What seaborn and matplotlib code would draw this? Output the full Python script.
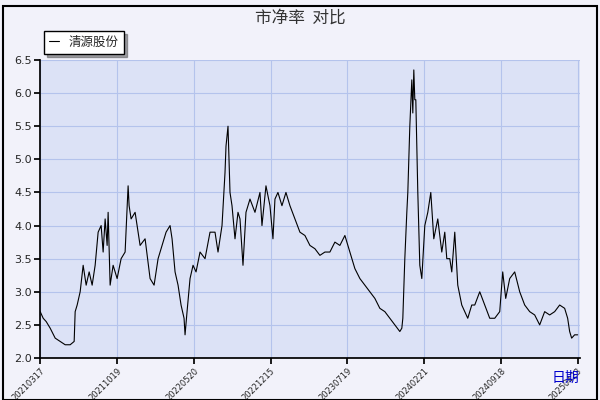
import matplotlib
matplotlib.use("Agg")
import matplotlib.pyplot as plt
import seaborn as sns
import pandas as pd
from matplotlib.patches import Rectangle

sns.set_theme(style="white")
plt.rcParams['font.family'] = ['Noto Sans CJK SC', 'DejaVu Sans']

tick_labels = ["20210317", "20211019", "20220520", "20221215", "20230719", "20240221", "20240918", "20250423"]
# pixel-read positions (converted to trading-day index below) and P/B values
pos = [40,43,46,50,55,60,65,70,74,75,77,80,83,86,89,92,95,98,101,103,105,107,108,110,113,117,121,125,128,129,131,135,140,145,150,154,158,162,166,170,172,175,178,181,184,185,187,190,193,196,200,205,210,215,218,222,225,226,228,230,232,235,238,240,243,246,250,255,260,262,266,270,273,275,278,282,286,290,295,300,305,310,315,320,325,330,335,340,345,350,355,360,365,370,375,380,385,390,395,400,402,403,405,407,408,410,412,413,414,415,416,418,420,422,425,428,431,434,438,442,445,447,450,452,455,458,462,465,468,472,475,480,485,490,495,500,503,506,510,515,520,525,530,535,540,545,550,555,560,565,568,570,572,575,578]
pb = [2.7,2.6,2.55,2.45,2.3,2.25,2.2,2.2,2.25,2.7,2.8,3.0,3.4,3.1,3.3,3.1,3.4,3.9,4.0,3.6,4.1,3.7,4.2,3.1,3.4,3.2,3.5,3.6,4.6,4.3,4.1,4.2,3.7,3.8,3.2,3.1,3.5,3.7,3.9,4.0,3.8,3.3,3.1,2.8,2.6,2.35,2.7,3.2,3.4,3.3,3.6,3.5,3.9,3.9,3.6,4.0,4.8,5.2,5.5,4.5,4.3,3.8,4.2,4.1,3.4,4.2,4.4,4.2,4.5,4.0,4.6,4.3,3.8,4.4,4.5,4.3,4.5,4.3,4.1,3.9,3.85,3.7,3.65,3.55,3.6,3.6,3.75,3.7,3.85,3.6,3.35,3.2,3.1,3.0,2.9,2.75,2.7,2.6,2.5,2.4,2.45,2.6,3.5,4.2,4.5,5.5,6.2,5.7,6.35,5.9,5.9,4.5,3.4,3.2,4.0,4.2,4.5,3.8,4.1,3.6,3.9,3.5,3.5,3.3,3.9,3.1,2.8,2.7,2.6,2.8,2.8,3.0,2.8,2.6,2.6,2.7,3.3,2.9,3.2,3.3,3.0,2.8,2.7,2.65,2.5,2.7,2.65,2.7,2.8,2.75,2.6,2.4,2.3,2.35,2.35]
days = [(p - 40) * 1050 / 538 for p in pos]
df = pd.DataFrame({"day": days, "pb": pb})

fig = plt.figure(figsize=(6, 4), dpi=100, facecolor="#F2F2FA")
fig.patches.append(Rectangle((0.005, 0.0), 0.99, 0.985, transform=fig.transFigure,
                             fill=False, edgecolor="black", lw=1.5))
ax = fig.add_axes([0.067, 0.105, 0.9, 0.745])
ax.set_facecolor("#DCE2F6")
sns.lineplot(data=df, x="day", y="pb", ax=ax, color="black", lw=0.8, label="清源股份")
ax.set_xlim(0, 1055)
ax.set_ylim(2.0, 6.5)
ax.set_yticks([2.0, 2.5, 3.0, 3.5, 4.0, 4.5, 5.0, 5.5, 6.0, 6.5])
ax.set_yticklabels([f"{v:.1f}" for v in ax.get_yticks()], fontsize=8, family="DejaVu Sans")
ax.set_xticks([i * 150 for i in range(8)])
ax.set_xticklabels(tick_labels, rotation=45, fontsize=6, ha="right", rotation_mode="anchor",
                   family="DejaVu Sans")
ax.grid(True, color="#B4C3EC", lw=0.8)
for s in ["top", "right"]:
    ax.spines[s].set_visible(False)
ax.spines["left"].set_color("black")
ax.spines["bottom"].set_color("black")
ax.tick_params(axis="both", length=4, color="black", direction="out", left=True, bottom=True, pad=2)
ax.set_xlabel("")
ax.set_ylabel("")
leg = ax.legend(loc="lower left", bbox_to_anchor=(-0.005, 1.0), fontsize=9, frameon=True,
                fancybox=False, edgecolor="black", shadow=True, handlelength=0.8,
                borderpad=0.4)
leg.get_frame().set_facecolor("white")
fig.text(0.5, 0.955, "市净率  对比", ha="center", va="center", fontsize=12, color="#333333")
fig.text(0.965, 0.055, "日期", ha="right", va="center", fontsize=10, color="#0000CC")
fig.savefig("out.png", dpi=100, facecolor=fig.get_facecolor())
